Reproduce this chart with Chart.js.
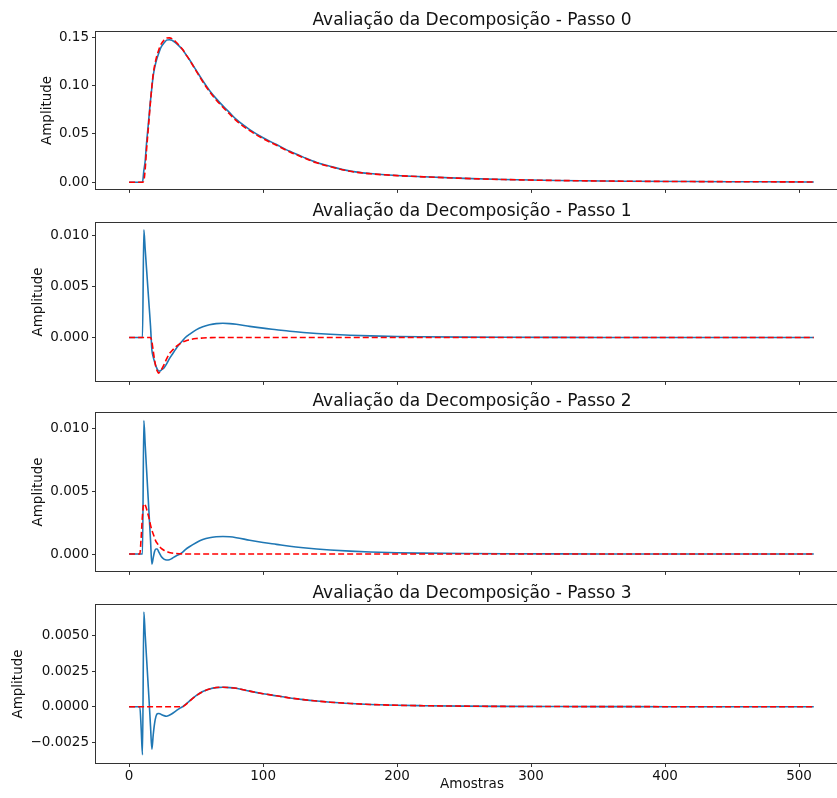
<!DOCTYPE html>
<html>
<head>
<meta charset="utf-8">
<title>Avaliação da Decomposição</title>
<script src="https://cdn.jsdelivr.net/npm/chart.js@4.4.1/dist/chart.umd.min.js"></script>
<style>
  html, body { margin: 0; padding: 0; background: #fff; width: 837px; height: 798px; overflow: hidden; }
  .painel { position: absolute; left: 0; width: 860px; }
</style>
</head>
<body>
<div class="painel" style="top:0px;height:200px"><canvas id="passo0" width="860" height="200"></canvas></div>
<div class="painel" style="top:191px;height:201px"><canvas id="passo1" width="860" height="201"></canvas></div>
<div class="painel" style="top:381px;height:201px"><canvas id="passo2" width="860" height="201"></canvas></div>
<div class="painel" style="top:573px;height:225px"><canvas id="passo3" width="860" height="225"></canvas></div>
<script>
// amostras (mais densas no início, onde o sinal muda rápido)
const amostras = [0, 8, 9, 10, 11, 12, 13, 14, 15, 16,
                  17, 18, 19, 20, 21, 22, 23, 24, 26, 28,
                  30, 32, 35, 38, 40, 42, 45, 50, 55, 60,
                  65, 70, 75, 80, 90, 100, 110, 120, 130, 140,
                  150, 165, 180, 200, 220, 250, 280, 320, 370, 420,
                  470, 511];

// Passo 0
const sinal0 = [0, 0, 0, 0, 0.012, 0.022, 0.040, 0.055, 0.070, 0.085,
                0.098, 0.110, 0.118, 0.124, 0.129, 0.133, 0.137, 0.140, 0.144, 0.147,
                0.1475, 0.147, 0.144, 0.140, 0.137, 0.133, 0.127, 0.116, 0.105, 0.095,
                0.0865, 0.079, 0.072, 0.065, 0.0545, 0.046, 0.039, 0.032, 0.026, 0.0205,
                0.0165, 0.0115, 0.009, 0.007, 0.0057, 0.004, 0.0028, 0.0018, 0.0011, 0.0007,
                0.0005, 0.0003];
const aprox0 = [0, 0, 0, 0, 0.0014, 0.0133, 0.0332, 0.0501, 0.0670, 0.0839,
                0.0992, 0.1119, 0.1204, 0.1268, 0.1321, 0.1363, 0.1403, 0.1432, 0.1470, 0.1493,
                0.1494, 0.1486, 0.1451, 0.1406, 0.1373, 0.1330, 0.1267, 0.1153, 0.1040, 0.0938,
                0.0851, 0.0776, 0.0706, 0.0637, 0.0534, 0.0451, 0.0382, 0.0314, 0.0255, 0.0201,
                0.0162, 0.0113, 0.0088, 0.0069, 0.0056, 0.0040, 0.0028, 0.0018, 0.0011, 0.0007,
                0.0005, 0.0003];

// Passo 1
const sinal1 = [0, 0, 0, 0, 0.0106, 0.0087, 0.0068, 0.0049, 0.0030, 0.0011,
                -0.0012, -0.0019, -0.0024, -0.0028, -0.0031, -0.0033, -0.0033, -0.0032, -0.0030, -0.0026,
                -0.0021, -0.0017, -0.0011, -0.0006, -0.0003, 0.0000, 0.0003, 0.00075, 0.00105, 0.00125,
                0.00137, 0.0014, 0.00137, 0.0013, 0.0011, 0.00092, 0.00077, 0.00062, 0.0005, 0.0004,
                0.00032, 0.00023, 0.00016, 0.0001, 0.00007, 0.00004, 0.00002, 0.00001, 0.000005, 0,
                0, 0];
const aprox1 = [0, 0, 0, 0, 0, 0, 0, 0, 0, 0,
                -0.0004, -0.0013, -0.0022, -0.0029, -0.0033, -0.0035, -0.0034, -0.0032, -0.0027, -0.0021,
                -0.0016, -0.0013, -0.0009, -0.0006, -0.00045, -0.00035, -0.00022, -0.0001, -0.00005, -0.00002,
                0, 0, 0, 0, 0, 0, 0, 0, 0, 0,
                0, 0, 0, 0, 0, 0, 0, 0, 0, 0,
                0, 0];

// Passo 2
const sinal2 = [0, 0, 0, 0, 0.0106, 0.0087, 0.0068, 0.0049, 0.0030, 0.0011,
                -0.0008, -0.0003, 0.0002, 0.0004, 0.0004, 0.0002, 0.0000, -0.0002, -0.0004, -0.00047,
                -0.00045, -0.00035, -0.00015, 0.0000, 0.00015, 0.00035, 0.00058, 0.0009, 0.00115, 0.0013,
                0.00137, 0.0014, 0.00137, 0.0013, 0.0011, 0.00092, 0.00077, 0.00062, 0.0005, 0.0004,
                0.00032, 0.00023, 0.00016, 0.0001, 0.00007, 0.00004, 0.00002, 0.00001, 0.000005, 0,
                0, 0];
const aprox2 = [0, 0, 0.0013, 0.0031, 0.0040, 0.0039, 0.0036, 0.0032, 0.0028, 0.0023,
                0.0019, 0.0016, 0.0013, 0.0010, 0.00085, 0.0007, 0.00057, 0.00045, 0.0003, 0.0002,
                0.00012, 0.00008, 0.00004, 0.00002, 0.00001, 0, 0, 0, 0, 0,
                0, 0, 0, 0, 0, 0, 0, 0, 0, 0,
                0, 0, 0, 0, 0, 0, 0, 0, 0, 0,
                0, 0];

// Passo 3
const sinal3 = [0, 0, -0.0015, -0.0034, 0.0067, 0.0051, 0.0035, 0.0019, 0.0003, -0.0014,
                -0.0030, -0.0020, -0.0012, -0.0007, -0.0005, -0.00048, -0.0005, -0.00055, -0.00063, -0.00067,
                -0.0006, -0.0005, -0.0003, -0.0001, 0.0000, 0.00015, 0.0004, 0.00078, 0.00107, 0.00125,
                0.00135, 0.00137, 0.00135, 0.0013, 0.0011, 0.00092, 0.00077, 0.00062, 0.0005, 0.0004,
                0.00032, 0.00023, 0.00016, 0.0001, 0.00007, 0.00004, 0.00002, 0.00001, 0.000005, 0,
                0, 0];
const aprox3 = [0, 0, 0, 0, 0, 0, 0, 0, 0, 0,
                0, 0, 0, 0, 0, 0, 0, 0, 0, 0,
                0, 0, 0, 0, 0, 0.00013, 0.00038, 0.00077, 0.00106, 0.00125,
                0.00136, 0.00138, 0.00135, 0.0013, 0.0011, 0.00092, 0.00077, 0.00062, 0.0005, 0.0004,
                0.00032, 0.00023, 0.00016, 0.0001, 0.00007, 0.00004, 0.00002, 0.00001, 0.000005, 0,
                0, 0];

const xTicks = [0, 100, 200, 300, 400, 500];
const yTicks0 = [0, 0.05, 0.10, 0.15];
const yRotulos0 = ['0.00', '0.05', '0.10', '0.15'];
const yTicks1 = [0, 0.005, 0.010];
const yRotulos1 = ['0.000', '0.005', '0.010'];
const yTicks3 = [-0.0025, 0, 0.0025, 0.005];
const yRotulos3 = ['\u22120.0025', '0.0000', '0.0025', '0.0050'];

Chart.defaults.font.family = 'DejaVu Sans';
Chart.defaults.color = '#111';

function linha(xs, ys) {
    return xs.map((x, i) => ({ x: x, y: ys[i] }));
}

// moldura completa do eixo (estilo matplotlib)
const moldura = {
    id: 'moldura',
    afterDatasetsDraw(chart) {
        const a = chart.chartArea;
        const ctx = chart.ctx;
        ctx.save();
        ctx.strokeStyle = '#333';
        ctx.lineWidth = 1;
        ctx.strokeRect(Math.round(a.left) - 0.5, Math.round(a.top) - 0.5,
                       Math.round(a.right - a.left) + 1, Math.round(a.bottom - a.top) + 1);
        ctx.restore();
    }
};

function desenharPainel(id, passo, sinal, aprox, yMin, yMax, yTicks, yRotulos, padY, ultimo) {
    new Chart(document.getElementById(id), {
        type: 'line',
        data: {
            datasets: [
                { data: linha(amostras, aprox), borderColor: '#ff0000', borderWidth: 1.6, borderDash: [6, 3], order: 0 },
                { data: linha(amostras, sinal), borderColor: '#1f77b4', borderWidth: 1.6, order: 1 }
            ]
        },
        options: {
            responsive: false,
            animation: false,
            events: [],
            layout: { padding: { left: 0, right: 12, top: 0, bottom: 0 } },
            elements: {
                point: { radius: 0 },
                line: { cubicInterpolationMode: 'monotone', fill: false }
            },
            plugins: {
                legend: { display: false },
                tooltip: { enabled: false },
                title: {
                    display: true,
                    text: 'Avaliação da Decomposição - Passo ' + passo,
                    fullSize: false,
                    color: '#111',
                    font: { size: 17, weight: 'normal', lineHeight: 1.2 },
                    padding: { top: 10, bottom: 1.6 }
                }
            },
            scales: {
                x: {
                    type: 'linear',
                    min: -24.7,
                    max: 536.55,
                    afterBuildTicks: ax => { ax.ticks = xTicks.map(v => ({ value: v })); },
                    afterFit: ax => { ax.height = ultimo ? 35 : 10; },
                    grid: { drawOnChartArea: false, drawTicks: true, tickLength: 4, color: '#333' },
                    border: { display: false },
                    ticks: { display: ultimo, padding: 1, maxRotation: 0, autoSkip: false, font: { size: 13.5 } },
                    title: { display: ultimo, text: 'Amostras', font: { size: 13.5 }, padding: { top: 0, bottom: 5 } }
                },
                y: {
                    min: yMin,
                    max: yMax,
                    afterBuildTicks: ax => { ax.ticks = yTicks.map(v => ({ value: v })); },
                    afterFit: ax => { ax.width = 96; },
                    grid: { drawOnChartArea: false, drawTicks: true, tickLength: 4, color: '#333' },
                    border: { display: false },
                    ticks: { padding: 3, font: { size: 13.5 }, callback: (v, i) => yRotulos[i] },
                    title: { display: true, text: 'Amplitude', font: { size: 13.5 }, padding: { top: padY, bottom: 0 } }
                }
            }
        },
        plugins: [moldura]
    });
}

desenharPainel('passo0', 0, sinal0, aprox0, -0.00688, 0.15545, yTicks0, yRotulos0, 39, false);
desenharPainel('passo1', 1, sinal1, aprox1, -0.00427, 0.01127, yTicks1, yRotulos1, 30.7, false);
desenharPainel('passo2', 2, sinal2, aprox2, -0.00134, 0.01121, yTicks1, yRotulos1, 30.7, false);
desenharPainel('passo3', 3, sinal3, aprox3, -0.00398, 0.00719, yTicks3, yRotulos3, 10.6, true);
</script>
</body>
</html>
